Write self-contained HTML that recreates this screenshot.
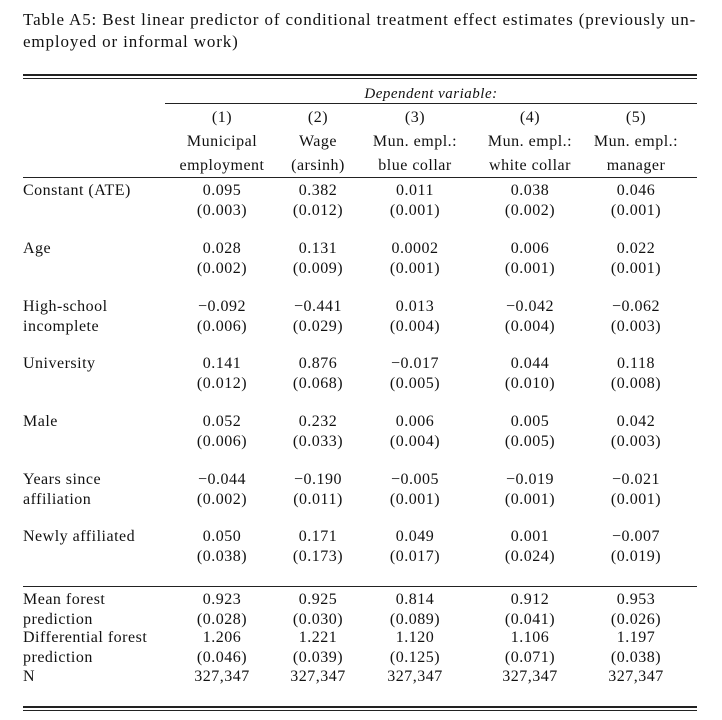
<!DOCTYPE html>
<html><head><meta charset="utf-8"><style>
body{margin:0;background:#fff;}
#t{position:relative;width:722px;height:720px;font-family:"Liberation Serif",serif;font-size:16px;color:#111;}
.x{position:absolute;line-height:16px;white-space:nowrap;letter-spacing:0.5px;}
.c{transform:translateX(-50%);}
.r{position:absolute;background:#222;}
</style></head><body>
<div id="t">
<div class="x" style="left:23px;top:12px;font-size:17px;letter-spacing:0.87px">Table A5: Best linear predictor of conditional treatment effect estimates (previously un-</div>
<div class="x" style="left:23px;top:34px;font-size:17px;letter-spacing:0.87px">employed or informal work)</div>
<div class="r" style="left:23px;top:74px;width:674px;height:1.5px"></div>
<div class="r" style="left:23px;top:77.5px;width:674px;height:1.5px"></div>
<div class="x c" style="left:431px;top:86px;font-style:italic;font-size:15px">Dependent variable:</div>
<div class="r" style="left:165px;top:103px;width:532px;height:1px"></div>
<div class="r" style="left:23px;top:177px;width:674px;height:1px"></div>
<div class="r" style="left:23px;top:586px;width:674px;height:1px"></div>
<div class="r" style="left:23px;top:706px;width:674px;height:1.5px"></div>
<div class="r" style="left:23px;top:709.5px;width:674px;height:1.5px"></div>
<div id="body"></div>
</div>
<script>
const colX=[222,318,415,530,636];
const heads=[["(1)","(2)","(3)","(4)","(5)"],["Municipal","Wage","Mun. empl.:","Mun. empl.:","Mun. empl.:"],["employment","(arsinh)","blue collar","white collar","manager"]];
const rows=[
["Constant (ATE)","",["0.095","0.382","0.011","0.038","0.046"],["(0.003)","(0.012)","(0.001)","(0.002)","(0.001)"],196],
["Age","",["0.028","0.131","0.0002","0.006","0.022"],["(0.002)","(0.009)","(0.001)","(0.001)","(0.001)"],254],
["High-school","incomplete",["−0.092","−0.441","0.013","−0.042","−0.062"],["(0.006)","(0.029)","(0.004)","(0.004)","(0.003)"],312],
["University","",["0.141","0.876","−0.017","0.044","0.118"],["(0.012)","(0.068)","(0.005)","(0.010)","(0.008)"],369],
["Male","",["0.052","0.232","0.006","0.005","0.042"],["(0.006)","(0.033)","(0.004)","(0.005)","(0.003)"],427],
["Years since","affiliation",["−0.044","−0.190","−0.005","−0.019","−0.021"],["(0.002)","(0.011)","(0.001)","(0.001)","(0.001)"],485],
["Newly affiliated","",["0.050","0.171","0.049","0.001","−0.007"],["(0.038)","(0.173)","(0.017)","(0.024)","(0.019)"],542],
["Mean forest","prediction",["0.923","0.925","0.814","0.912","0.953"],["(0.028)","(0.030)","(0.089)","(0.041)","(0.026)"],605],
["Differential forest","prediction",["1.206","1.221","1.120","1.106","1.197"],["(0.046)","(0.039)","(0.125)","(0.071)","(0.038)"],643]
];
const nVals=["327,347","327,347","327,347","327,347","327,347"];
const B=document.getElementById('body');
function put(txt,x,base,center,name){
const d=document.createElement('div');
d.className='x'+(center?' c':'');
d.style.left=x+'px';d.style.top=(base-13)+'px';d.textContent=txt;


B.appendChild(d);}
const hb=[123,147,171];
heads.forEach((h,i)=>h.forEach((t,j)=>put(t,colX[j],hb[i],true,'column-header')));
rows.forEach(r=>{
put(r[0],23,r[4],false,'row-label');
if(r[1])put(r[1],23,r[4]+20,false,'row-label');
r[2].forEach((v,j)=>put(v,colX[j],r[4],true,'coefficient'));
r[3].forEach((v,j)=>put(v,colX[j],r[4]+20,true,'standard-error'));
});
put("N",23,682,false,'row-label');
nVals.forEach((v,j)=>put(v,colX[j],682,true,'observations'));
</script>
</body></html>
